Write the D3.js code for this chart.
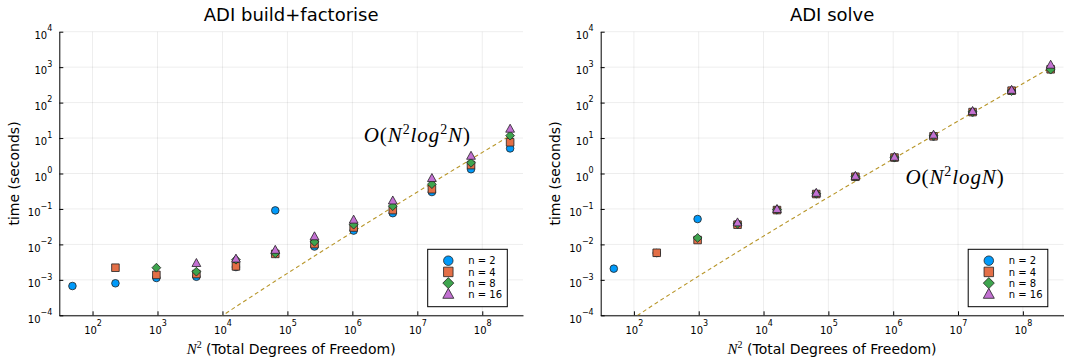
<!DOCTYPE html>
<html>
<head>
<meta charset="utf-8">
<script src="https://cdnjs.cloudflare.com/ajax/libs/d3/7.8.5/d3.min.js"></script>
<style>
  body { margin: 0; background: #fff; }
  svg { display: block; }
</style>
</head>
<body>
<div id="chart"></div>
<script>
// total degrees of freedom N^2, with N = 2^k - 1
var dof = [49, 225, 961, 3969, 16129, 65025, 261121, 1046529, 4190209, 16769025, 67092481, 268402689];
var seriesNames = ["n = 2", "n = 4", "n = 8", "n = 16"];

// build + factorise timings (seconds), null where no run
var buildN2  = [6.7e-4, 8.0e-4, 1.13e-3, 1.22e-3, 2.3e-3, 0.091, 0.0087, 0.0245, 0.076, 0.30, 1.32, 5.1];
var buildN4  = [null, 2.2e-3, 1.38e-3, 1.46e-3, 2.4e-3, 5.4e-3, 0.0102, 0.030, 0.093, 0.36, 1.73, 7.6];
var buildN8  = [null, null, 2.2e-3, 1.7e-3, 3.7e-3, 5.6e-3, 0.0118, 0.036, 0.12, 0.50, 2.0, 11.7];
var buildN16 = [null, null, null, 2.93e-3, 3.9e-3, 6.9e-3, 0.0166, 0.049, 0.17, 0.73, 3.1, 18];

// solve timings (seconds)
var solveN2  = [2.07e-3, 5.7e-3, 0.052, 0.037, 0.094, 0.265, 0.80, 2.8, 11.1, 53, 215, 880];
var solveN4  = [null, 5.8e-3, 0.0133, 0.036, 0.093, 0.264, 0.81, 2.82, 11.2, 54, 217, 870];
var solveN8  = [null, null, 0.0152, 0.038, 0.095, 0.27, 0.82, 2.85, 11.6, 55, 212, 850];
var solveN16 = [null, null, null, 0.041, 0.098, 0.28, 0.84, 2.9, 12.2, 57, 225, 1150];

var xTickExp = [2, 3, 4, 5, 6, 7, 8];
var yTickExp = [-4, -3, -2, -1, 0, 1, 2, 3, 4];

// scaling constants of the complexity guide lines
var buildC = 4.63e-10;   // c * N^2 * log(N)^2
var solveC = 3.724e-7;   // c * N^2 * log(N)

var colors = ["#009AFA", "#E36F47", "#3EA44E", "#C371D2"];
var shapes = ["circle", "square", "diamond", "triangle"];
var guideColor = "#B8962A";
var sans = "'DejaVu Sans', sans-serif";
var serif = "'Liberation Serif', 'DejaVu Serif', serif";

var W = 1065, H = 360;
var svg = d3.select("#chart").append("svg").attr("width", W).attr("height", H);

function markerPath(shape, k) {
    if (shape === "circle") {
        var r = 3.8 * k;
        return "M" + r + ",0A" + r + "," + r + " 0 1,1 " + (-r) + ",0A" + r + "," + r + " 0 1,1 " + r + ",0Z";
    }
    if (shape === "square") {
        var h = 3.8 * k;
        return "M" + (-h) + "," + (-h) + "H" + h + "V" + h + "H" + (-h) + "Z";
    }
    if (shape === "diamond") {
        var d = 4.4 * k;
        return "M0," + (-d) + "L" + d + ",0L0," + d + "L" + (-d) + ",0Z";
    }
    var w = 4.4 * k, t = 4.8 * k, b = 3.2 * k;
    return "M0," + (-t) + "L" + w + "," + b + "L" + (-w) + "," + b + "Z";
}

function supLabel(sel, exp) {
    sel.text("");
    sel.append("tspan").text("10");
    sel.append("tspan").attr("font-size", 8).attr("dy", -7.5).text(String(exp).replace("-", "\u2212"));
}

var panels = [
    { x0: 59.3, x1: 523, title: "ADI build+factorise",
      series: [buildN2, buildN4, buildN8, buildN16],
      guide: dof.map(function (X) { var L = Math.log(Math.sqrt(X)); return buildC * X * L * L; }),
      note: [["O", "it"], ["(", "up"], ["N", "it"], ["2", "sup"], ["log", "it"], ["2", "sup"], ["N", "it"], [")", "up"]],
      noteAt: [1e7, 7.9] },
    { x0: 600.7, x1: 1063.5, title: "ADI solve",
      series: [solveN2, solveN4, solveN8, solveN16],
      guide: dof.map(function (X) { return solveC * X * Math.log(Math.sqrt(X)); }),
      note: [["O", "it"], ["(", "up"], ["N", "it"], ["2", "sup"], ["log", "it"], ["N", "it"], [")", "up"]],
      noteAt: [9e6, 0.5] }
];

var y0 = 31.7, y1 = 315.3;

panels.forEach(function (p, pi) {
    var x = d3.scaleLog().domain([Math.pow(10, 1.488), Math.pow(10, 8.627)]).range([p.x0, p.x1]);
    var y = d3.scaleLog().domain([1e-4, 1e4]).range([y1, y0]);
    var g = svg.append("g");
    var clipId = "clip" + pi;
    g.append("clipPath").attr("id", clipId).append("rect")
        .attr("x", p.x0).attr("y", y0).attr("width", p.x1 - p.x0).attr("height", y1 - y0);

    // grid
    var grid = g.append("g").attr("stroke", "#000").attr("stroke-opacity", 0.1).attr("stroke-width", 0.7);
    xTickExp.forEach(function (e) {
        var px = x(Math.pow(10, e));
        grid.append("line").attr("x1", px).attr("x2", px).attr("y1", y0).attr("y2", y1);
    });
    yTickExp.forEach(function (e) {
        var py = y(Math.pow(10, e));
        grid.append("line").attr("x1", p.x0).attr("x2", p.x1).attr("y1", py).attr("y2", py);
    });

    // axes
    var xAxis = g.append("g").attr("transform", "translate(0," + y1 + ")")
        .call(d3.axisBottom(x).tickValues(xTickExp.map(function (e) { return Math.pow(10, e); }))
            .tickSizeInner(-4).tickSizeOuter(0));
    xAxis.selectAll(".tick text").each(function (d, i) { supLabel(d3.select(this), xTickExp[i]); })
        .attr("y", 18.3).attr("dy", 0);
    var yAxis = g.append("g").attr("transform", "translate(" + p.x0 + ",0)")
        .call(d3.axisLeft(y).tickValues(yTickExp.map(function (e) { return Math.pow(10, e); }))
            .tickSizeInner(-4).tickSizeOuter(0).tickPadding(7));
    yAxis.selectAll(".tick text").each(function (d, i) { supLabel(d3.select(this), yTickExp[i]); })
        .attr("dy", 6.7);
    [xAxis, yAxis].forEach(function (a) {
        a.attr("font-family", sans).attr("font-size", 10);
        a.select(".domain").attr("stroke", "#000");
        a.selectAll(".tick line").attr("stroke", "#000");
        a.selectAll(".tick text").attr("fill", "#000");
    });

    // guide line
    var line = d3.line().x(function (d, i) { return x(dof[i]); }).y(function (d) { return y(d); });
    g.append("path").datum(p.guide).attr("clip-path", "url(#" + clipId + ")")
        .attr("fill", "none").attr("stroke", guideColor).attr("stroke-width", 1.1)
        .attr("stroke-dasharray", "4,3").attr("d", line);

    // markers
    p.series.forEach(function (vals, si) {
        var pts = vals.map(function (v, i) { return { x: dof[i], v: v }; })
            .filter(function (d) { return d.v !== null; });
        g.append("g").selectAll("path").data(pts).enter().append("path")
            .attr("transform", function (d) { return "translate(" + x(d.x) + "," + y(d.v) + ")"; })
            .attr("d", markerPath(shapes[si], 1))
            .attr("fill", colors[si]).attr("stroke", "#222").attr("stroke-width", 0.8);
    });

    // complexity annotation
    var note = g.append("text").attr("x", x(p.noteAt[0])).attr("y", y(p.noteAt[1]))
        .attr("text-anchor", "middle").attr("font-family", serif).attr("font-size", 21)
        .attr("letter-spacing", 0.9).attr("fill", "#000");
    var raised = false;
    p.note.forEach(function (part) {
        var ts = note.append("tspan").text(part[0]);
        if (part[1] === "sup") {
            ts.attr("font-size", 14).attr("dy", -8);
            raised = true;
        } else {
            if (raised) { ts.attr("dy", 8); raised = false; }
            if (part[1] === "it") ts.attr("font-style", "italic");
        }
    });

    // title
    var cx = (p.x0 + p.x1) / 2;
    g.append("text").attr("x", cx).attr("y", 21).attr("text-anchor", "middle")
        .attr("font-family", sans).attr("font-size", 18).text(p.title);

    // axis labels
    var xl = g.append("text").attr("x", cx).attr("y", 354).attr("text-anchor", "middle")
        .attr("font-family", sans).attr("font-size", 14);
    xl.append("tspan").attr("font-family", serif).attr("font-style", "italic").attr("font-size", 15).text("N");
    xl.append("tspan").attr("font-family", serif).attr("font-size", 10).attr("dy", -6).text("2");
    xl.append("tspan").attr("dy", 6).text(" (Total Degrees of Freedom)");
    g.append("text").attr("transform", "translate(" + (p.x0 - 40.8) + "," + ((y0 + y1) / 2) + ") rotate(-90)")
        .attr("text-anchor", "middle").attr("font-family", sans).attr("font-size", 14).text("time (seconds)");

    // legend
    var lx = p.x1 - 95.3, ly = 249.3;
    var leg = g.append("g");
    leg.append("rect").attr("x", lx).attr("y", ly).attr("width", 79.6).attr("height", 57.4)
        .attr("fill", "#fff").attr("stroke", "#000").attr("stroke-width", 1);
    seriesNames.forEach(function (name, si) {
        var ry = ly + 11.4 + si * 11.2;
        leg.append("path").attr("transform", "translate(" + (lx + 20.6) + "," + ry + ")")
            .attr("d", markerPath(shapes[si], 1.25))
            .attr("fill", colors[si]).attr("stroke", "#222").attr("stroke-width", 0.8);
        leg.append("text").attr("x", lx + 40.6).attr("y", ry + 3.6)
            .attr("font-family", sans).attr("font-size", 10).text(name);
    });
});
</script>
</body>
</html>
